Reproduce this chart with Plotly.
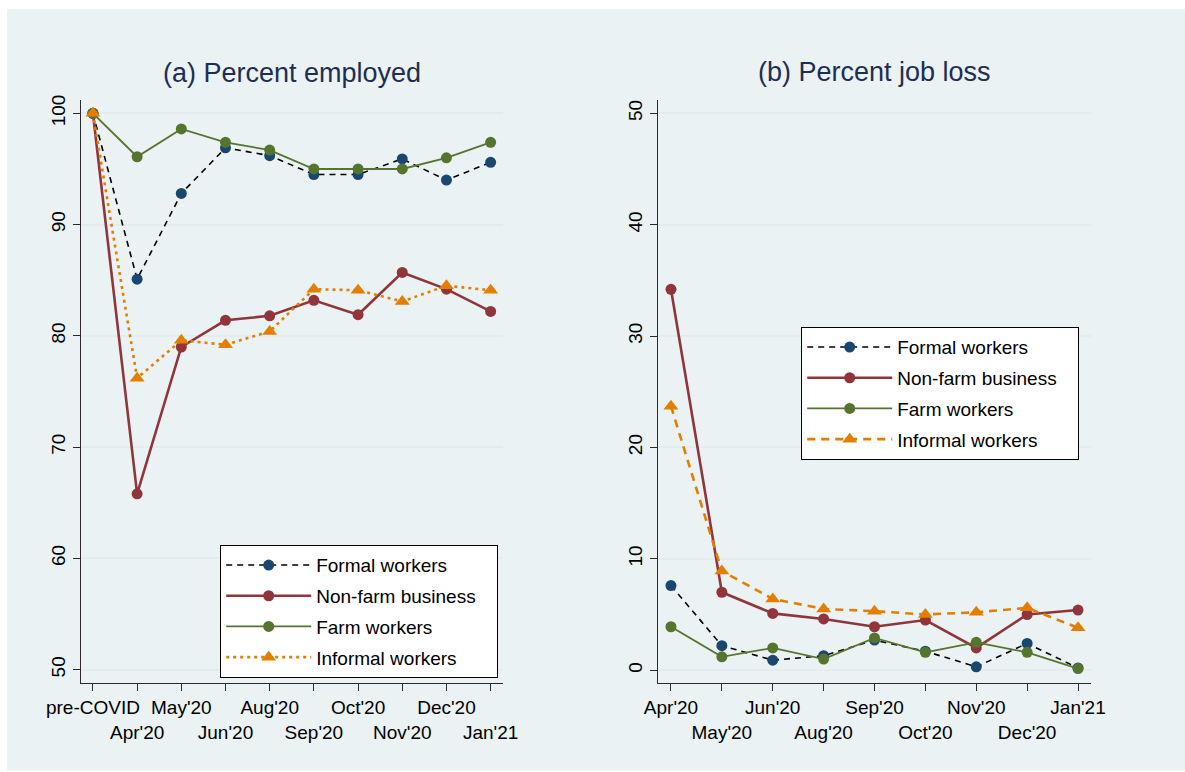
import plotly.graph_objects as go

# ---------------- data ----------------
months_a = ["pre-COVID", "Apr'20", "May'20", "Jun'20", "Aug'20", "Sep'20",
            "Oct'20", "Nov'20", "Dec'20", "Jan'21"]
months_b = ["Apr'20", "May'20", "Jun'20", "Aug'20", "Sep'20",
            "Oct'20", "Nov'20", "Dec'20", "Jan'21"]

series_names = ["Formal workers", "Non-farm business", "Farm workers", "Informal workers"]

# (a) Percent employed
emp_formal   = [100, 85.1, 92.8, 96.9, 96.2, 94.5, 94.5, 95.9, 94.0, 95.6]
emp_nonfarm  = [100, 65.8, 79.0, 81.4, 81.8, 83.2, 81.9, 85.7, 84.2, 82.2]
emp_farm     = [100, 96.1, 98.6, 97.4, 96.7, 95.0, 95.0, 95.0, 96.0, 97.4]
emp_informal = [100, 76.2, 79.6, 79.2, 80.4, 84.2, 84.1, 83.1, 84.5, 84.1]

# (b) Percent job loss
loss_formal   = [7.6, 2.2, 0.9, 1.3, 2.7, 1.7, 0.3, 2.4, 0.2]
loss_nonfarm  = [34.2, 7.0, 5.1, 4.6, 3.9, 4.5, 2.0, 5.0, 5.4]
loss_farm     = [3.9, 1.2, 2.0, 1.0, 2.9, 1.6, 2.5, 1.6, 0.15]
loss_informal = [23.7, 8.9, 6.4, 5.5, 5.3, 5.0, 5.2, 5.6, 3.8]

yticks_a = [50, 60, 70, 80, 90, 100]
yticks_b = [0, 10, 20, 30, 40, 50]

# ---------------- style ----------------
W, H = 1185, 772
BG = "#eaf2f3"
NAVY = "#1a476f"
MAROON = "#90353b"
GREEN = "#55752f"
ORANGE = "#e37e00"
TITLE_C = "#1e2d53"
FONT = "Liberation Sans, Arial, sans-serif"

styles = {
    "Formal workers":    dict(line=dict(color="black", width=1.6, dash="6px,5px"),
                              marker=dict(color=NAVY, size=11, symbol="circle")),
    "Non-farm business": dict(line=dict(color=MAROON, width=2.6),
                              marker=dict(color=MAROON, size=11, symbol="circle")),
    "Farm workers":      dict(line=dict(color=GREEN, width=1.8),
                              marker=dict(color=GREEN, size=11, symbol="circle")),
}
inf_a = dict(line=dict(color=ORANGE, width=2.6, dash="3px,4px"),
             marker=dict(color=ORANGE, size=13, symbol="triangle-up"))
inf_b = dict(line=dict(color=ORANGE, width=2.6, dash="8px,6px"),
             marker=dict(color=ORANGE, size=13, symbol="triangle-up"))

fig = go.Figure()

xa = list(range(len(months_a)))
xb = list(range(len(months_b)))

data_a = [emp_formal, emp_nonfarm, emp_farm, emp_informal]
data_b = [loss_formal, loss_nonfarm, loss_farm, loss_informal]

def legend_label(name):
    # pad the longest entry so the legend box gets the reference's right padding
    return name + "\u00a0\u00a0\u00a0" if name == "Non-farm business" else name

for name, vals in zip(series_names, data_a):
    st = styles.get(name, inf_a)
    fig.add_trace(go.Scatter(x=xa, y=vals, mode="lines+markers", name=legend_label(name),
                             line=st["line"], marker=st["marker"],
                             xaxis="x", yaxis="y", legend="legend",
                             legendgroup="a" + name))
for name, vals in zip(series_names, data_b):
    st = styles.get(name, inf_b)
    fig.add_trace(go.Scatter(x=xb, y=vals, mode="lines+markers", name=legend_label(name),
                             line=st["line"], marker=st["marker"],
                             xaxis="x2", yaxis="y2", legend="legend2",
                             legendgroup="b" + name))

def two_rows(labels, first_top=True):
    out = []
    for i, lab in enumerate(labels):
        top = (i % 2 == 0) == first_top
        out.append(lab if top else "\u00a0<br>" + lab)
    return out

ydom = [(H - 683) / H, (H - 100) / H]

axis_common = dict(showline=True, linecolor="#2b2b2b", linewidth=1.3,
                   ticks="outside", ticklen=7, tickwidth=1.3, tickcolor="#2b2b2b",
                   tickfont=dict(family=FONT, size=19, color="black"),
                   zeroline=False, mirror=False, automargin=False)

fig.update_layout(
    template="none",
    width=W, height=H,
    margin=dict(l=0, r=0, t=0, b=0, pad=0),
    paper_bgcolor="white",
    plot_bgcolor="white",
    font=dict(family=FONT),
    xaxis=dict(domain=[81 / W, 503 / W], range=[-0.27, 9.28],
               tickvals=xa, ticktext=two_rows(months_a), showgrid=False,
               tickangle=0, anchor="y", **axis_common),
    yaxis=dict(domain=ydom, range=[48.8, 101.2], tickvals=yticks_a,
               tickangle=-90, showgrid=True, gridcolor="#e3edf0", gridwidth=1.6,
               anchor="x", **axis_common),
    xaxis2=dict(domain=[658 / W, 1091 / W], range=[-0.255, 8.255],
                tickvals=xb, ticktext=two_rows(months_b), showgrid=False,
                tickangle=0, anchor="y2", **axis_common),
    yaxis2=dict(domain=ydom, range=[-1.15, 51.2], tickvals=yticks_b,
                tickangle=-90, showgrid=True, gridcolor="#e3edf0", gridwidth=1.6,
                anchor="x2", **axis_common),
    legend=dict(x=220 / W, y=(H - 545) / H, xanchor="left", yanchor="top",
                bgcolor="white", bordercolor="black", borderwidth=1.2,
                font=dict(family=FONT, size=19, color="black"),
                itemwidth=85, tracegroupgap=3),
    legend2=dict(x=801 / W, y=(H - 327) / H, xanchor="left", yanchor="top",
                 bgcolor="white", bordercolor="black", borderwidth=1.2,
                 font=dict(family=FONT, size=19, color="black"),
                 itemwidth=85, tracegroupgap=3),
    shapes=[dict(type="rect", xref="paper", yref="paper",
                 x0=7 / W, x1=1.0, y0=1.5 / H, y1=(H - 9) / H,
                 fillcolor=BG, line=dict(width=0), layer="below")],
    annotations=[
        dict(text="(a) Percent employed", x=292 / W, y=(H - 73) / H,
             xref="paper", yref="paper", xanchor="center", yanchor="middle",
             showarrow=False, font=dict(family=FONT, size=27, color=TITLE_C)),
        dict(text="(b) Percent job loss", x=874 / W, y=(H - 72) / H,
             xref="paper", yref="paper", xanchor="center", yanchor="middle",
             showarrow=False, font=dict(family=FONT, size=27, color=TITLE_C)),
    ],
)

fig.write_html("out.html")
